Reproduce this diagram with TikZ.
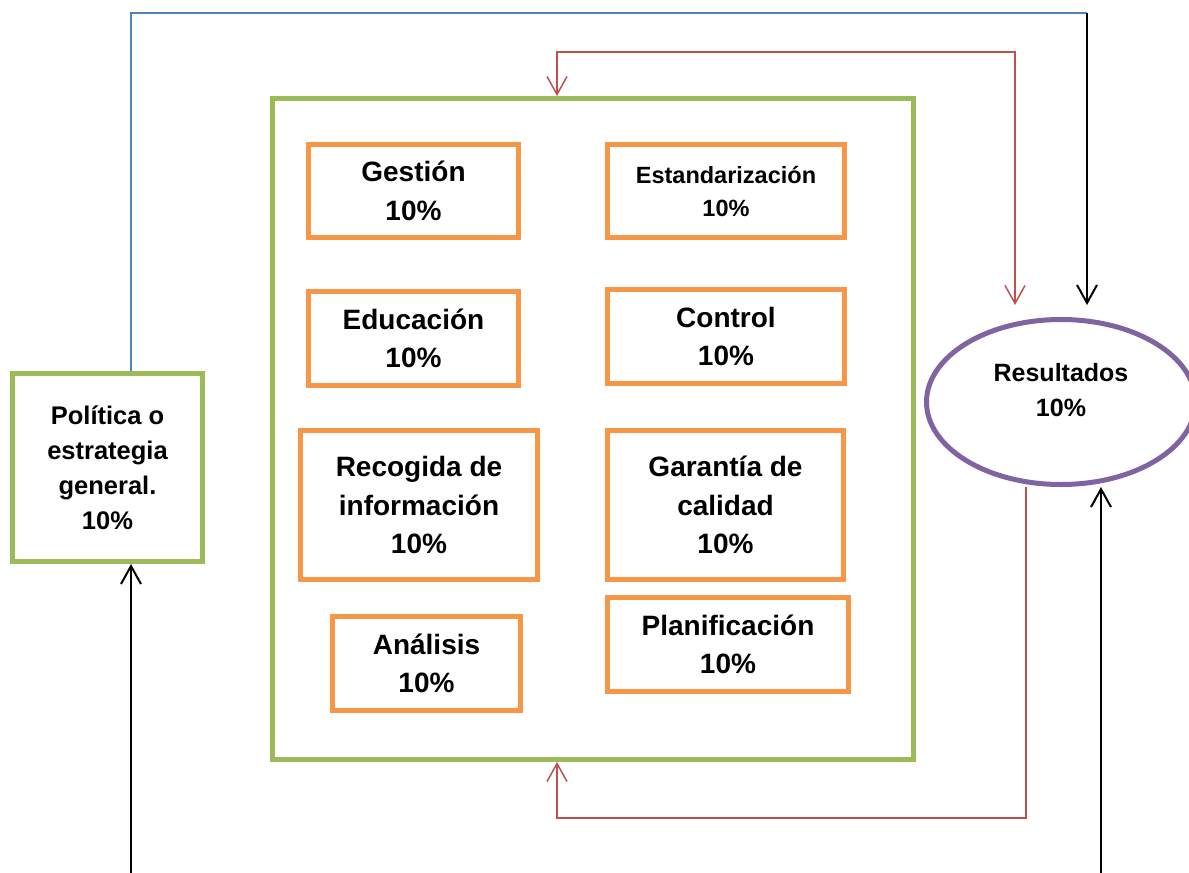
\documentclass[tikz,border=0pt]{standalone}
\usepackage{fontspec}
\setmainfont{Liberation Sans}
\usetikzlibrary{shapes.geometric}
\usetikzlibrary{arrows.meta}
\definecolor{frgreen}{HTML}{9BBB59}
\definecolor{boxorange}{HTML}{F79646}
\definecolor{respurple}{HTML}{8064A2}
\definecolor{loopred}{HTML}{C0504D}
\definecolor{lineblue}{HTML}{4F81BD}
\tikzset{
    itembox/.style={
        draw=boxorange,
        line width=5pt,
        inner sep=0pt,
        align=center,
        font=\bfseries\fontsize{28}{38.5}\selectfont},
    greenbox/.style={
        draw=frgreen,
        line width=5pt,
        inner sep=0pt,
        align=center},
    resnode/.style={
        ellipse,
        draw=respurple,
        line width=5pt,
        inner sep=0pt},
    barb/.tip={Straight Barb[length=18pt,width=20pt]},
    link/.style={
        line width=2pt,
        -barb}}

\begin{document}
\begin{tikzpicture}[x=1pt,y=-1pt]
        \path[use as bounding box] (0,0) rectangle (1189,873);
        \clip (0,0) rectangle (1189,873);

        \node[greenbox,minimum width=641,minimum height=661] (main) at (593,429) {};
        \node[greenbox,minimum width=190,minimum height=188,
            font=\bfseries\fontsize{25.5}{35}\selectfont] (pol) at (107.5,467.5) {Política o\\estrategia\\general.\\10\%};
        \node[resnode,minimum width=269,minimum height=165] (res) at (1061,402) {};
        \node[align=center,font=\bfseries\fontsize{25}{35}\selectfont] (restxt) at (1061,390) {Resultados\\10\%};

        \node[itembox,minimum width=210,minimum height=93] (gest) at (413.5,191) {Gestión\\10\%};
        \node[itembox,minimum width=237,minimum height=93,
            font=\bfseries\fontsize{23.5}{33}\selectfont] (estd) at (726,191) {Estandarización\\10\%};
        \node[itembox,minimum width=210,minimum height=94] (educ) at (413.5,338.5) {Educación\\10\%};
        \node[itembox,minimum width=237,minimum height=94] (ctrl) at (726,336.5) {Control\\10\%};
        \node[itembox,minimum width=237,minimum height=149] (reco) at (419,505) {Recogida de\\información\\10\%};
        \node[itembox,minimum width=236,minimum height=149] (gara) at (725.5,505) {Garantía de\\calidad\\10\%};
        \node[itembox,minimum width=188,minimum height=94] (anal) at (426.5,663.5) {Análisis\\10\%};
        \node[itembox,minimum width=241,minimum height=94] (plan) at (728,644.5) {Planificación\\10\%};

        \coordinate (tl) at (131,13);
        \coordinate (tr) at (1087,13);
        \coordinate (ra) at (557,52);
        \coordinate (rb) at (1015,52);
        \coordinate (rc) at (1026,818);
        \coordinate (rd) at (557,818);
        \coordinate (bl) at (131,873);
        \coordinate (br) at (1101,873);

        \draw[lineblue,line width=1.5pt] (pol.north -| tl) -- (tl) -- (tr);
        \draw[link,shorten >=12pt] (tr) -- (res.north -| tr);
        \draw[link,loopred,line width=1.5pt,barb-barb,shorten >=12pt]
            (main.north -| ra) -- (ra) -- (rb) -- (res.north -| rb);
        \draw[link,loopred,line width=1.5pt] (res.south -| rc) -- (rc) -- (rd) -- (main.south -| rd);
        \draw[link] (bl) -- (pol.south -| bl);
        \draw[link] (br) -- (res.south -| br);
    \end{tikzpicture}
\end{document}
